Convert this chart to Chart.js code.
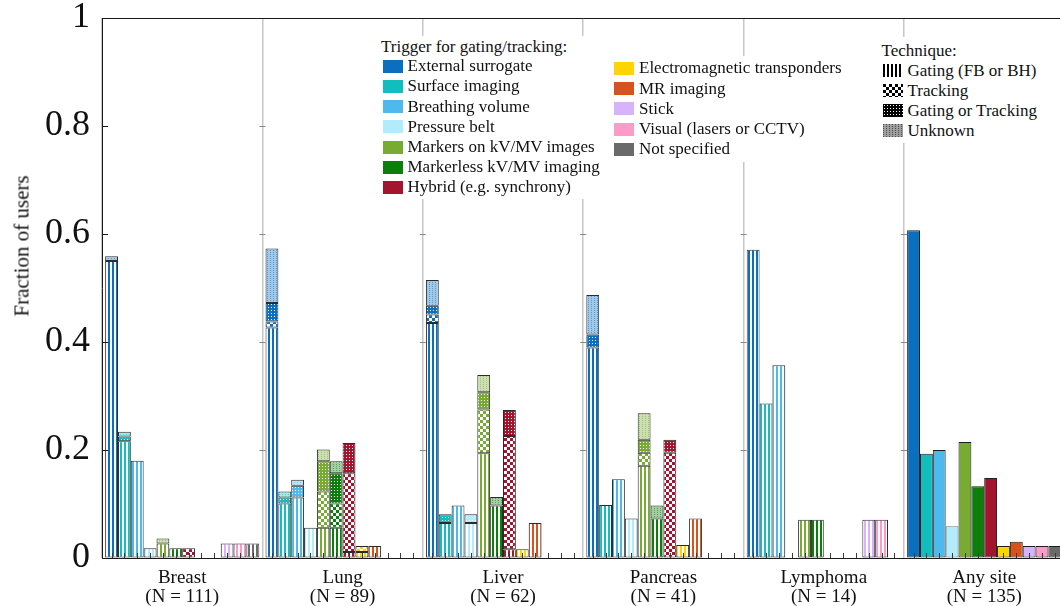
<!DOCTYPE html>
<html>
<head>
<meta charset="utf-8">
<script src="https://cdn.jsdelivr.net/npm/chart.js@4.4.1/dist/chart.umd.min.js"></script>
<style>
  html, body { margin: 0; padding: 0; background: #fff; overflow: hidden; }
  #wrap { position: relative; width: 1060px; height: 606px; overflow: hidden;
          font-family: 'Liberation Serif', 'Times New Roman', serif; color: #111; }
  #c { position: absolute; left: 0; top: 0; }
  #ytitle { position: absolute; left: 22px; top: 246px; font-size: 21px; white-space: nowrap;
            transform: translate(-50%, -50%) rotate(-90deg); }
  .box { position: absolute; background: #fff; }
  .txt { position: absolute; white-space: nowrap; font-size: 17px; line-height: 20px; height: 20px; }
  .sw { position: absolute; width: 20px; height: 13px; }
</style>
</head>
<body>
<div id="wrap">
  <canvas id="c" width="1070" height="606"></canvas>
  <div id="ytitle">Fraction of users</div>
  <div id="legends"></div>
</div>
<script>
// Treatment sites and number of respondents per site
const sites = ['Breast', 'Lung', 'Liver', 'Pancreas', 'Lymphoma', 'Any site'];
const siteN = [111, 89, 62, 41, 14, 135];

// Trigger systems used for gating / tracking
const triggers = [
  'External surrogate', 'Surface imaging', 'Breathing volume', 'Pressure belt',
  'Markers on kV/MV images', 'Markerless kV/MV imaging', 'Hybrid (e.g. synchrony)',
  'Electromagnetic transponders', 'MR imaging', 'Stick', 'Visual (lasers or CCTV)', 'Not specified'
];
const triggerColors = [
  '#0b6fc0', '#12bdbd', '#4db9ec', '#b2ebfc', '#77ab31', '#0a7f0a', '#a3152f',
  '#ffd400', '#d8531b', '#d6b3fb', '#fd9bc8', '#6a6a6a'
];
const techniques = ['Gating (FB or BH)', 'Tracking', 'Gating or Tracking', 'Unknown'];
const techniqueKeys = ['gating', 'tracking', 'either', 'unknown'];

// Fraction of users per trigger (rows) for Breast, Lung, Liver, Pancreas, Lymphoma
const gating = [
  [0.550, 0.427, 0.435, 0.390, 0.571],
  [0.216, 0.101, 0.065, 0.098, 0.286],
  [0.180, 0.112, 0.097, 0.146, 0.357],
  [0.018, 0.056, 0.065, 0.073, null],
  [0.027, 0.056, 0.194, 0.171, 0.071],
  [0.018, 0.056, 0.097, 0.073, 0.071],
  [null, 0.011, 0.016, null, null],
  [null, 0.011, 0.016, 0.024, null],
  [null, 0.022, 0.065, 0.073, null],
  [0.027, null, null, null, 0.071],
  [0.027, null, null, null, 0.071],
  [0.027, null, null, null, null]
];
const tracking = [
  [null, 0.011, 0.016, null, null],
  [null, null, null, null, null],
  [null, null, null, null, null],
  [null, null, null, null, null],
  [null, 0.067, 0.081, 0.024, null],
  [null, 0.045, null, null, null],
  [0.018, 0.146, 0.210, 0.195, null],
  [null, 0.011, null, null, null],
  [null, null, null, null, null],
  [null, null, null, null, null],
  [null, null, null, null, null],
  [null, null, null, null, null]
];
const gatingOrTracking = [
  [null, 0.034, 0.016, 0.024, null],
  [0.009, 0.011, 0.016, null, null],
  [null, 0.022, null, null, null],
  [null, null, 0.016, null, null],
  [null, 0.056, 0.032, 0.024, null],
  [null, 0.056, null, null, null],
  [null, 0.056, 0.048, 0.024, null],
  [null, null, null, null, null],
  [null, null, null, null, null],
  [null, null, null, null, null],
  [null, null, null, null, null],
  [null, null, null, null, null]
];
const unknownTechnique = [
  [0.009, 0.101, 0.048, 0.073, null],
  [0.009, 0.011, null, null, null],
  [null, 0.011, null, null, null],
  [null, null, null, null, null],
  [0.009, 0.022, 0.032, 0.049, null],
  [null, 0.022, 0.016, 0.024, null],
  [null, null, null, null, null],
  [null, null, null, null, null],
  [null, null, null, null, null],
  [null, null, null, null, null],
  [null, null, null, null, null],
  [null, null, null, null, null]
];
// Any site: overall fraction per trigger, technique not split
const anySite = [0.607, 0.193, 0.200, 0.059, 0.215, 0.133, 0.148, 0.022, 0.030, 0.022, 0.022, 0.022];

const yTicks = [0, 0.2, 0.4, 0.6, 0.8, 1];

const SERIF = "'Liberation Serif', 'Times New Roman', serif";
const canvas = document.getElementById('c');
const ctx = canvas.getContext('2d');

function pale(hex, k) {
  const n = parseInt(hex.slice(1), 16);
  const r = (n >> 16) & 255, g = (n >> 8) & 255, b = n & 255;
  const m = v => Math.round(v + (255 - v) * k);
  return `rgb(${m(r)},${m(g)},${m(b)})`;
}

// Fill textures for the four techniques
function makeTile(kind, color) {
  const c = document.createElement('canvas');
  const x = c.getContext('2d');
  if (kind === 'gating') {
    c.width = 4; c.height = 4;
    x.fillStyle = '#fff'; x.fillRect(0, 0, 4, 4);
    x.fillStyle = color; x.fillRect(0, 0, 2, 4);
  } else if (kind === 'tracking') {
    c.width = 6; c.height = 6;
    x.fillStyle = '#fff'; x.fillRect(0, 0, 6, 6);
    x.fillStyle = color; x.fillRect(0, 0, 3, 3); x.fillRect(3, 3, 3, 3);
  } else if (kind === 'either') {
    c.width = 3; c.height = 3;
    x.fillStyle = color; x.fillRect(0, 0, 3, 3);
    x.fillStyle = '#fff'; x.fillRect(1, 1, 1, 1);
  } else {
    c.width = 3; c.height = 2;
    x.fillStyle = pale(color, 0.62); x.fillRect(0, 0, 3, 2);
    x.fillStyle = pale(color, 0.3); x.fillRect(0, 0, 1, 1);
  }
  return c;
}
function makePattern(kind, color) {
  return ctx.createPattern(makeTile(kind, color), 'repeat');
}

const techRows = [gating, tracking, gatingOrTracking, unknownTechnique];
const datasets = [];
triggers.forEach((name, t) => {
  techRows.forEach((rows, k) => {
    datasets.push({
      label: name + ' / ' + techniques[k],
      stack: 'trigger' + t,
      data: rows[t].concat([null]),
      backgroundColor: makePattern(techniqueKeys[k], triggerColors[t]),
      borderColor: '#2b2b2b',
      borderWidth: 1,
      borderSkipped: false
    });
  });
  datasets.push({
    label: name + ' / all',
    stack: 'trigger' + t,
    data: [null, null, null, null, null, anySite[t]],
    backgroundColor: triggerColors[t],
    borderColor: t === 3 ? '#7a7a7a' : '#1e1e1e',
    borderWidth: 1,
    borderSkipped: false
  });
});

// Frame, inward ticks and separators' tick marks
const framePlugin = {
  id: 'frame',
  afterDatasetsDraw(chart) {
    const { ctx: g, chartArea: a, scales: { x, y } } = chart;
    g.save();
    g.lineWidth = 1;
    g.strokeStyle = '#1a1a1a';
    g.beginPath();
    g.moveTo(a.left, a.top + 0.5); g.lineTo(a.right, a.top + 0.5);
    yTicks.forEach(v => {
      const py = Math.round(y.getPixelForValue(v)) + 0.5;
      g.moveTo(a.left, py); g.lineTo(a.left + 6, py);
    });
    g.stroke();

    // small marks on the site separators
    g.strokeStyle = '#8a8a8a';
    g.beginPath();
    for (let i = 1; i < sites.length; i++) {
      const bx = (x.getPixelForValue(i - 1) + x.getPixelForValue(i)) / 2;
      yTicks.slice(1, -1).forEach(v => {
        const py = Math.round(y.getPixelForValue(v)) + 0.5;
        g.moveTo(bx - 3, py); g.lineTo(bx + 3, py);
      });
    }
    g.stroke();

    // tick under every bar slot
    g.strokeStyle = '#3a3a3a';
    g.beginPath();
    sites.forEach((s, si) => {
      triggers.forEach((tn, t) => {
        const meta = chart.getDatasetMeta(t * 5 + (si < 5 ? 0 : 4));
        const el = meta.data[si];
        if (!el) return;
        const px = Math.round(el.x) + 0.5;
        g.moveTo(px, a.bottom); g.lineTo(px, a.bottom - 5);
      });
    });
    g.stroke();
    g.restore();
  }
};

new Chart(canvas, {
  type: 'bar',
  data: {
    labels: sites.map((s, i) => [s, '(N = ' + siteN[i] + ')']),
    datasets
  },
  options: {
    responsive: false,
    animation: false,
    devicePixelRatio: 1,
    layout: { padding: { top: 18, right: 5.6, left: 0, bottom: 0 } },
    plugins: { legend: { display: false }, tooltip: { enabled: false } },
    datasets: { bar: { categoryPercentage: 0.961, barPercentage: 1 } },
    scales: {
      x: {
        stacked: true,
        grid: { display: true, offset: true, color: '#c6c6c6', lineWidth: 1.5, drawTicks: false },
        border: { display: true, color: '#1a1a1a', width: 1 },
        ticks: { color: '#111', font: { family: SERIF, size: 19, lineHeight: 1.0 }, padding: 11, maxRotation: 0 },
        afterFit(s) { s.height = 48; }
      },
      y: {
        stacked: true,
        min: 0, max: 1,
        afterBuildTicks(s) { s.ticks = yTicks.map(v => ({ value: v })); },
        grid: { display: true, drawOnChartArea: false, drawTicks: false },
        border: { display: true, color: '#1a1a1a', width: 1 },
        ticks: {
          color: '#111', font: { family: SERIF, size: 36, lineHeight: 1 }, padding: 12,
          callback: v => String(v)
        },
        afterFit(s) { s.width = 102; s.paddingTop = 0; s.paddingBottom = 0; }
      }
    }
  },
  plugins: [framePlugin]
});

// Legends
const legends = document.getElementById('legends');
function add(tag, cls, style, text) {
  const el = document.createElement(tag);
  if (cls) el.className = cls;
  Object.assign(el.style, style);
  if (text) el.textContent = text;
  legends.appendChild(el);
  return el;
}
add('div', 'box', { left: '378px', top: '36px', width: '228px', height: '163px' });
add('div', 'box', { left: '608px', top: '56px', width: '242px', height: '106px' });
add('div', 'box', { left: '878px', top: '37px', width: '168px', height: '106px' });

add('div', 'txt', { left: '381px', top: '37px' }, 'Trigger for gating/tracking:');
triggers.forEach((name, t) => {
  const col2 = t >= 7;
  const row = col2 ? t - 7 : t;
  const cy = col2 ? 68.3 + row * 20.25 : 66.2 + row * 20.2;
  const sx = col2 ? 614 : 383;
  const tx = col2 ? 639 : 407.5;
  add('div', 'sw', { left: sx + 'px', top: (cy - 6.5) + 'px', background: triggerColors[t] });
  add('div', 'txt', { left: tx + 'px', top: (cy - 10) + 'px' }, name);
});

add('div', 'txt', { left: '881.5px', top: '40.7px' }, 'Technique:');
techniques.forEach((name, k) => {
  const cy = 70.7 + k * 20;
  const tile = makeTile(techniqueKeys[k], '#000000');
  const sw = document.createElement('canvas');
  sw.width = 20; sw.height = 13;
  sw.className = 'sw';
  Object.assign(sw.style, { left: '883px', top: (cy - 6.5) + 'px' });
  const sctx = sw.getContext('2d');
  sctx.fillStyle = sctx.createPattern(tile, 'repeat');
  sctx.fillRect(0, 0, 20, 13);
  legends.appendChild(sw);
  add('div', 'txt', { left: '907.5px', top: (cy - 10) + 'px' }, name);
});
</script>
</body>
</html>
